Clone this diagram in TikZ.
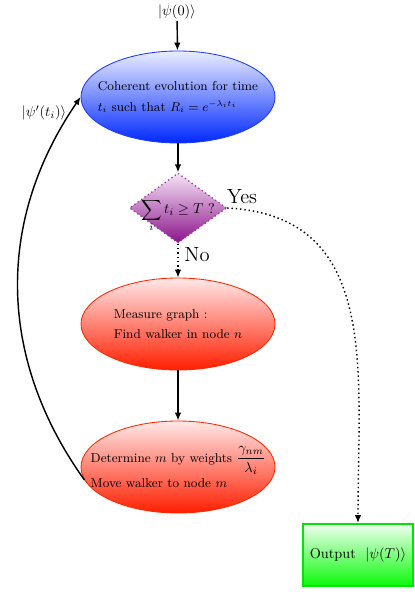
\documentclass[tikz,border=0pt]{standalone}
\usepackage{amsmath}
\usetikzlibrary{shapes.geometric,arrows.meta}
\definecolor{bluetop}{RGB}{235,238,255}
\definecolor{bluebot}{RGB}{0,40,255}
\definecolor{blueline}{RGB}{30,60,255}
\definecolor{redtop}{RGB}{255,232,232}
\definecolor{redbot}{RGB}{255,30,0}
\definecolor{redline}{RGB}{255,40,0}
\definecolor{purptop}{RGB}{245,228,245}
\definecolor{purpbot}{RGB}{140,20,140}
\definecolor{purpline}{RGB}{165,45,165}
\definecolor{greentop}{RGB}{240,255,240}
\definecolor{greenbot}{RGB}{10,250,10}
\definecolor{greenline}{RGB}{0,230,0}
\tikzset{
  ell/.style={ellipse, inner xsep=-15pt, inner ysep=0pt, minimum width=135.8pt, minimum height=64.4pt, align=left, font=\small},
  bluebox/.style={ell, draw=blueline, line width=0.6pt, top color=bluetop, bottom color=bluebot},
  redbox/.style={ell, draw=redline, line width=0.6pt, top color=redtop, bottom color=redbot},
  decbox/.style={diamond, inner sep=0pt, minimum width=68pt, minimum height=49pt, draw=purpline, dotted, line width=0.9pt, top color=purptop, bottom color=purpbot},
  outbox/.style={rectangle, inner sep=0pt, minimum width=77pt, minimum height=43.4pt, draw=greenline, line width=1.4pt, top color=greentop, bottom color=greenbot},
  arr/.style={line width=1pt, -{Latex[length=5.5pt,width=4.5pt]}},
  darr/.style={arr, dotted},
  lbl/.style={inner sep=1pt},
  biglbl/.style={inner sep=1pt, font=\Large}
}
\begin{document}
\begin{tikzpicture}[x=0.7pt,y=0.7pt]
\useasboundingbox (0,0) rectangle (415,-595);
\node[lbl] (p0) at (177,-12) {$|\psi(0)\rangle$};
\node[bluebox] (b) at (178,-97) {Coherent evolution for time\\[4pt] $t_i$ such that $R_i=e^{-\lambda_i t_i}$};
\node[decbox] (d) at (178,-208) {\smash{\makebox[0pt]{\raisebox{-3.9pt}{$\displaystyle\sum_i t_i \geq T\ ?$}}}};
\node[redbox] (r1) at (178,-324) {Measure graph :\\[3pt] Find walker in node $n$};
\node[redbox] (r2) at (178,-467) {Determine $m$ by weights {\normalsize$\dfrac{\gamma_{nm}}{\lambda_i}$}\\[2pt] Move walker to node $m$};
\node[outbox] (o) at (358,-555) {Output~~$|\psi(T)\rangle$};
\node[biglbl] (yes) at (242,-197) {Yes};
\node[biglbl] (no) at (197,-255) {No};
\node[lbl] (pp) at (44,-113) {$|\psi'(t_i)\rangle$};
\draw[arr] (p0) -- (b);
\draw[arr] (b) -- (d);
\draw[darr] (d) -- (r1);
\draw[arr] (r1) -- (r2);
\draw[arr] (r2.188) to[bend left=35] (b.west);
\draw[darr] (d.east) to[out=-3, in=90, looseness=1.15] (o.north);
\end{tikzpicture}
\end{document}
